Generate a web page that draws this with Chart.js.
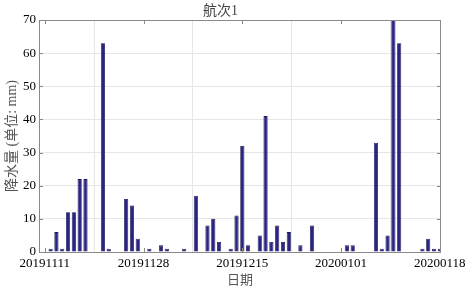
<!DOCTYPE html>
<html>
<head>
<meta charset="utf-8">
<script src="https://cdn.jsdelivr.net/npm/chart.js@4/dist/chart.umd.min.js"></script>
<style>
  html, body { margin: 0; padding: 0; background: #fff; }
  #wrap { width: 470px; height: 288px; }
</style>
</head>
<body>
<div id="wrap"><canvas id="chart"></canvas></div>
<script>
// rainfall per day, day 0 = 20191111 ... day 68 = 20200118
const rainDays = [1, 2, 3, 4, 5, 6, 7, 10, 11, 14, 15, 16, 18, 20, 21, 24, 26, 28, 29, 30,
  32, 33, 34, 35, 37, 38, 39, 40, 41, 42, 44, 46, 52, 53, 57, 58, 59, 60, 61, 65, 66, 67, 68];
const rainValues = [1, 6, 1, 12, 12, 22, 22, 63, 1, 16, 14, 4, 1, 2, 1, 1, 17, 8, 10, 3,
  1, 11, 32, 2, 5, 41, 3, 8, 3, 6, 2, 8, 2, 2, 33, 1, 5, 70, 63, 1, 4, 1, 1];
const tickDays = [0, 17, 34, 51, 68];
const tickLabels = ["20191111", "20191128", "20191215", "20200101", "20200118"];
const yTicks = [0, 10, 20, 30, 40, 50, 60, 70];

const FONT = '"Liberation Serif", "Noto Sans CJK SC", serif';

// draws the box round the plot and small inward ticks on all sides
const frame = {
  id: "frame",
  afterDraw(chart) {
    const { ctx, chartArea: a, scales } = chart;
    ctx.save();
    ctx.strokeStyle = "#8a8a8a";
    ctx.lineWidth = 1;
    ctx.strokeRect(a.left + 0.5, a.top + 0.5, a.right - a.left - 1, a.bottom - a.top);
    ctx.beginPath();
    yTicks.forEach((v) => {
      const y = Math.round(scales.y.getPixelForValue(v)) + 0.5;
      ctx.moveTo(a.left, y); ctx.lineTo(a.left + 4, y);
      ctx.moveTo(a.right, y); ctx.lineTo(a.right - 4, y);
    });
    tickDays.forEach((v) => {
      const x = Math.round(scales.x.getPixelForValue(v)) + 0.5;
      ctx.moveTo(x, a.bottom); ctx.lineTo(x, a.bottom - 4);
      ctx.moveTo(x, a.top); ctx.lineTo(x, a.top + 4);
    });
    ctx.stroke();
    ctx.restore();
  }
};

new Chart(document.getElementById("chart"), {
  type: "bar",
  data: {
    datasets: [{
      data: rainDays.map((d, i) => ({ x: d, y: rainValues[i] })),
      backgroundColor: "#2b2484",
      borderColor: "#1b1850",
      borderWidth: 0.8,
      barPercentage: 0.72,
      categoryPercentage: 1
    }]
  },
  options: {
    responsive: true,
    maintainAspectRatio: false,
    animation: false,
    layout: { padding: { left: 0, right: 29, top: 0, bottom: 0 } },
    plugins: {
      legend: { display: false },
      tooltip: { enabled: false },
      title: {
        display: true,
        text: "航次1",
        color: "#444",
        font: { family: FONT, size: 14, weight: "normal" },
        padding: { top: 3, bottom: 0.2 }
      }
    },
    scales: {
      x: {
        type: "linear",
        min: -1,
        max: 68.2,
        offset: false,
        afterBuildTicks: (s) => { s.ticks = tickDays.map((v) => ({ value: v })); },
        afterFit: (s) => { s.height = 36; },
        ticks: {
          autoSkip: false,
          maxRotation: 0,
          padding: 4,
          color: "#000",
          font: { family: FONT, size: 13 },
          callback: (v) => tickLabels[tickDays.indexOf(v)] ?? ""
        },
        grid: { color: "#e6e6e6", drawTicks: false },
        border: { display: false },
        title: {
          display: true,
          text: "日期",
          color: "#555",
          font: { family: FONT, size: 13 },
          padding: { top: 0, bottom: 0 }
        }
      },
      y: {
        min: 0,
        max: 70,
        afterBuildTicks: (s) => { s.ticks = yTicks.map((v) => ({ value: v })); },
        afterFit: (s) => { s.width = 39; },
        ticks: {
          padding: 3,
          color: "#000",
          font: { family: FONT, size: 13 }
        },
        grid: { color: "#e6e6e6", drawTicks: false },
        border: { display: false },
        title: {
          display: true,
          text: "降水量 (单位: mm)",
          color: "#555",
          font: { family: FONT, size: 14 },
          padding: { top: 4, bottom: 0 }
        }
      }
    }
  },
  plugins: [frame]
});
</script>
</body>
</html>
